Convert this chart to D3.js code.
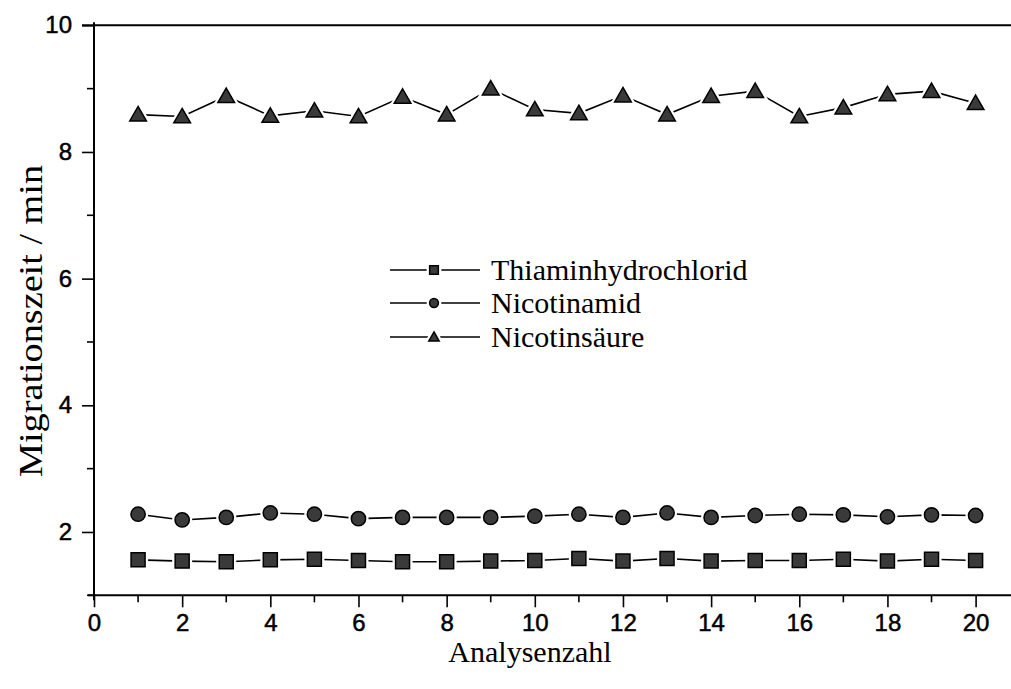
<!DOCTYPE html>
<html>
<head>
<meta charset="utf-8">
<script src="https://d3js.org/d3.v7.min.js"></script>
<style>
  body { margin: 0; background: #fff; }
  .tick text { font-family: "Liberation Sans", Arial, sans-serif; }
  .serif { font-family: "Liberation Serif", "Times New Roman", serif; }
</style>
</head>
<body>
<div id="chart"></div>
<script>
// measurement number (Analysenzahl)
var runs = d3.range(1, 21);

var thiamin = [1.56, 1.54, 1.53, 1.56, 1.57, 1.55, 1.53, 1.53, 1.54, 1.55,
               1.58, 1.54, 1.58, 1.54, 1.55, 1.55, 1.57, 1.54, 1.57, 1.55];
var nicotinamid = [2.28, 2.19, 2.23, 2.30, 2.28, 2.21, 2.23, 2.23, 2.23, 2.25,
                   2.28, 2.23, 2.30, 2.23, 2.26, 2.28, 2.27, 2.24, 2.27, 2.26];
var nicotinsaeure = [8.59, 8.56, 8.88, 8.57, 8.65, 8.56, 8.87, 8.59, 9.00, 8.67,
                     8.61, 8.89, 8.59, 8.88, 8.96, 8.56, 8.70, 8.91, 8.96, 8.77];

var seriesNames = ["Thiaminhydrochlorid", "Nicotinamid", "Nicotinsäure"];
var seriesSymbols = ["square", "circle", "triangle"];

var xTicks = d3.range(0, 21, 2);
var yTicks = [2, 4, 6, 8, 10];

var width = 1011, height = 689;
var x0 = 94, perUnit = 44.08;

var svg = d3.select("#chart").append("svg")
    .attr("width", width)
    .attr("height", height);

var x = d3.scaleLinear().domain([0, 21]).range([x0, x0 + 21 * perUnit]);
var y = d3.scaleLinear().domain([1, 10]).range([595.3, 25.3]);

// top frame line
svg.append("line")
    .attr("x1", 82).attr("x2", width)
    .attr("y1", y(10)).attr("y2", y(10))
    .attr("stroke", "#000").attr("stroke-width", 2);

// x axis
var xAxis = svg.append("g")
    .attr("transform", "translate(0," + y(1) + ")")
    .call(d3.axisBottom(x).tickValues(xTicks).tickSize(12).tickPadding(7).tickFormat(d3.format("d")));
xAxis.selectAll("line").attr("stroke-width", 1.6);
xAxis.select(".domain").attr("stroke-width", 2).attr("d", "M88,0H" + width);
xAxis.selectAll("text").attr("font-size", 24).attr("fill", "#000")
    .attr("stroke", "#000").attr("stroke-width", 0.5);
xAxis.selectAll(".minor").data(d3.range(1, 21, 2)).enter().append("line")
    .attr("class", "minor")
    .attr("x1", function(d) { return x(d); }).attr("x2", function(d) { return x(d); })
    .attr("y1", 0).attr("y2", 7)
    .attr("stroke", "#000").attr("stroke-width", 1.6);

// y axis
var yAxis = svg.append("g")
    .attr("transform", "translate(" + x0 + ",0)")
    .call(d3.axisLeft(y).tickValues(yTicks).tickSize(12).tickPadding(10).tickFormat(d3.format("d")));
yAxis.selectAll("line").attr("stroke-width", 1.6);
yAxis.select(".domain").attr("stroke-width", 2).attr("d", "M0," + (y(10) - 3) + "V" + (y(1) + 5));
yAxis.selectAll("text").attr("font-size", 24).attr("fill", "#000")
    .attr("stroke", "#000").attr("stroke-width", 0.5);
yAxis.selectAll(".minor").data([1, 3, 5, 7, 9]).enter().append("line")
    .attr("class", "minor")
    .attr("y1", function(d) { return y(d); }).attr("y2", function(d) { return y(d); })
    .attr("x1", 0).attr("x2", -7)
    .attr("stroke", "#000").attr("stroke-width", 1.6);

// axis titles
svg.append("text")
    .attr("class", "serif")
    .attr("x", 530).attr("y", 662)
    .attr("text-anchor", "middle")
    .attr("font-size", 30)
    .text("Analysenzahl");

svg.append("text")
    .attr("class", "serif")
    .attr("transform", "translate(42,321) rotate(-90)")
    .attr("text-anchor", "middle")
    .attr("font-size", 33)
    .attr("textLength", 312)
    .attr("lengthAdjust", "spacingAndGlyphs")
    .text("Migrationszeit / min");

var symbolType = {
  square: d3.symbolSquare,
  circle: d3.symbolCircle,
  triangle: d3.symbolTriangle
};
var symbolSize = { square: 196, circle: 160, triangle: 120 };

function marker(g, kind, cx, cy, scale) {
  scale = scale || 1;
  var path = d3.symbol().type(symbolType[kind]).size(symbolSize[kind] * scale * scale)();
  var dy = kind === "triangle" ? 1.5 * scale : 0;
  g.append("path")
      .attr("d", path)
      .attr("transform", "translate(" + cx + "," + (cy + dy) + ")")
      .attr("fill", "none").attr("stroke", "#fff").attr("stroke-width", 6);
  g.append("path")
      .attr("d", path)
      .attr("transform", "translate(" + cx + "," + (cy + dy) + ")")
      .attr("fill", "#3a3a3a").attr("stroke", "#000").attr("stroke-width", 1.5);
}

var allSeries = [thiamin, nicotinamid, nicotinsaeure];
var line = d3.line()
    .x(function(d, i) { return x(runs[i]); })
    .y(function(d) { return y(d); });

allSeries.forEach(function(vals, k) {
  var g = svg.append("g");
  g.append("path")
      .datum(vals)
      .attr("d", line)
      .attr("fill", "none")
      .attr("stroke", "#000")
      .attr("stroke-width", 1.6);
  vals.forEach(function(v, i) {
    marker(g, seriesSymbols[k], x(runs[i]), y(v));
  });
});

// legend
var legendY = [270, 303, 337];
var legend = svg.append("g");
seriesNames.forEach(function(name, k) {
  legend.append("line")
      .attr("x1", 390).attr("x2", 480)
      .attr("y1", legendY[k]).attr("y2", legendY[k])
      .attr("stroke", "#000").attr("stroke-width", 1.4);
  marker(legend, seriesSymbols[k], 434, legendY[k], 0.62);
  legend.append("text")
      .attr("class", "serif")
      .attr("x", 491).attr("y", legendY[k] + 10)
      .attr("font-size", 30)
      .text(name);
});
</script>
</body>
</html>
